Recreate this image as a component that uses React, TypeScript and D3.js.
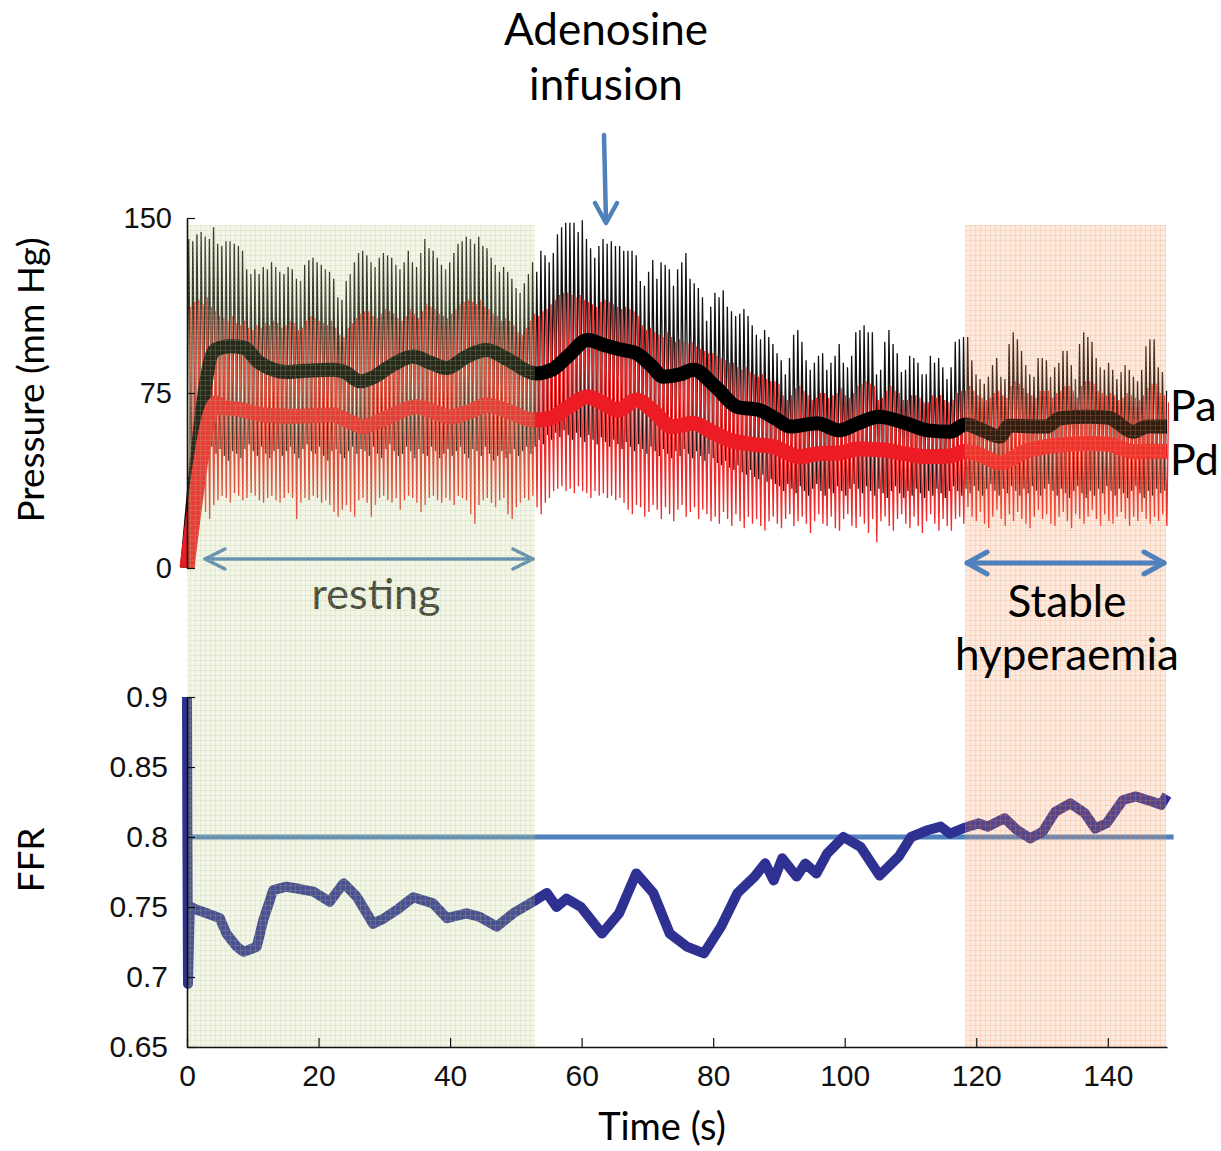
import React, { useEffect, useRef } from 'react';
import * as d3 from 'd3';

const W = 1221;
const H = 1151;

// one heartbeat every ~0.63 s (mm Hg)
const beatPeriod = 0.63;

const paSystolic = [
  141,140,143,144,142,141,146,139,138,140,140,139,138,136,128,126,128,126,129,128,131,129,127,126,129,128,124,123,130,132,133,131,130,128,127,124,116,115,123,126,131,135,136,
  134,131,129,133,135,134,133,130,128,131,136,131,129,135,141,137,136,133,130,128,131,135,139,140,142,141,139,142,138,137,133,130,127,129,127,124,120,118,122,126,131,
  127,136,134,131,135,143,146,148,148,148,144,149,141,137,133,138,141,139,140,138,138,136,136,136,134,123,121,127,132,124,131,130,128,121,128,131,135,124,122,120,116,106,112,
  118,116,119,112,110,108,109,111,108,104,100,98,102,99,96,92,
  89,83,90,100,102,97,89,85,88,91,92,85,88,91,96,88,86,91,101,102,104,101,101,83,85,97,102,96,92,84,85,91,90,88,83,83,91,88,90,86,81,86,97,98,99,
  99,89,83,81,79,82,87,90,82,81,96,101,98,93,87,83,82,90,90,89,82,86,88,93,93,87,81,96,101,99,97,90,86,85,88,85,81,84,87,85,82,80,85,95,98,98,86,84,76,
];

const paDiastolic = [
  50,48,51,49,47,50,52,49,51,48,46,50,49,47,51,53,50,48,52,49,47,50,51,48,50,52,49,47,51,53,50,49,52,48,46,50,51,49,47,50,52,49,51,
  50,48,52,49,47,51,53,50,48,49,52,50,47,51,49,48,52,50,47,49,51,48,50,52,49,47,51,50,48,52,49,46,48,50,47,49,51,48,50,52,49,
  52,55,53,57,55,58,56,59,57,55,58,56,54,57,55,53,56,54,52,55,53,51,54,52,50,53,51,49,52,50,48,51,49,47,50,48,51,49,47,50,48,46,49,
  47,45,44,46,43,42,44,41,40,42,39,38,40,37,38,36,
  35,33,36,34,32,35,33,31,34,36,33,31,34,32,35,33,31,34,36,34,32,35,33,31,34,32,30,33,35,32,30,33,31,34,32,30,33,31,34,32,30,33,35,33,31,
  34,32,35,33,31,34,36,33,31,34,32,35,33,31,34,32,35,33,31,34,36,33,31,34,32,30,33,35,32,30,33,31,34,32,35,33,31,34,32,30,33,35,32,30,33,31,34,32,33,
];

const pdSystolic = [
  112,114,115,113,116,112,110,108,107,106,108,105,104,106,103,102,104,103,105,104,106,105,103,104,106,105,102,103,106,108,107,106,105,104,106,103,100,99,103,105,107,109,110,
  110,108,107,109,111,110,109,107,106,108,111,109,107,110,113,112,111,109,108,107,109,111,113,114,115,114,113,115,112,111,109,108,106,107,106,104,101,100,103,106,109,
  108,110,111,113,115,117,118,118,117,116,117,115,114,113,112,114,115,114,113,112,111,112,111,110,108,104,102,103,101,100,99,101,99,97,98,97,96,97,95,94,93,92,92,
  91,90,89,88,88,86,85,86,84,83,82,83,81,80,80,79,
  74,72,74,77,78,76,74,72,73,75,75,73,74,75,77,74,73,75,78,79,80,79,78,72,73,76,78,76,75,72,72,74,74,73,71,71,74,73,74,72,71,72,75,76,76,
  78,76,74,73,72,73,75,76,74,73,78,80,79,77,75,74,73,76,76,76,73,75,76,78,78,76,73,78,80,80,79,76,75,74,75,74,72,73,75,74,73,72,74,77,79,79,75,74,71,
];

const pdDiastolic = [
  30,28,26,29,24,21,27,29,31,30,28,32,31,29,30,32,31,29,28,30,31,29,28,30,32,30,21,28,30,29,31,30,28,29,27,24,22,25,27,24,22,29,30,
  28,22,27,30,31,29,28,30,25,29,31,30,28,24,27,30,31,29,28,30,29,27,31,30,29,23,19,27,29,30,28,26,29,30,23,21,26,28,30,29,31,
  26,23,28,30,33,34,35,33,34,32,35,33,32,30,33,31,32,30,31,29,30,28,25,23,27,26,22,24,27,25,21,26,23,20,25,27,22,24,26,21,25,23,20,
  22,19,24,21,18,23,20,17,22,19,21,18,16,20,22,19,
  17,21,23,18,20,22,19,15,20,23,19,18,22,17,16,21,23,18,17,22,19,15,21,11,20,22,18,16,21,23,19,17,22,18,15,20,23,19,16,21,18,16,21,22,19,
  26,22,20,24,19,17,22,25,21,18,23,20,24,21,19,17,22,25,21,23,19,18,22,24,20,17,23,21,19,22,25,21,18,23,20,19,22,24,21,18,22,20,24,21,19,22,20,23,18,
];

// beat-averaged pressures
const paMeanTime = [0,4.3,6.5,8.6,11,15.2,18,22.2,24,26.3,28.5,30.8,34.4,37,39.5,42.5,45.5,49,52.1,53.1,55.5,58,60.9,63.5,66.3,68.3,70.5,72.4,75,77,80.4,83.7,87,89.5,91.8,95.8,99.2,102,105.2,109.3,112.6,116,118.4,121,123.6,125,130.7,132.7,137,140,143.9,146,149];
const paMeanValue = [0,93.5,95,94.5,88,84,84.5,85,84,80,82,86.3,90.6,88,85.7,90.6,93.4,89,84,83.4,85,91,97.7,95.5,93.4,92,87,82,83,85,77.6,69,67.7,64,60.6,62,59,62,64.8,62,59,58.4,61.5,59,56.3,61,60.6,64.2,64.8,64.5,58.4,60.6,60.6];
const pdMeanTime = [0,4.5,5.2,8,11.7,16,22.2,24.5,26.8,30,34.9,37.5,40,43,45.5,49,52.6,55,58,60.9,63,65.6,68.3,71,73.7,77,80,82.4,86,89.1,93.2,96,99.2,102,105.9,109,112.6,116,118.4,121,123.6,127.5,132.7,137,140,143.9,146,149];
const pdMeanValue = [0,70.7,69,68,65.6,65,65.6,63,60.6,64,69.1,67,64.8,67,69.9,67,63.4,64,69,73.4,71,67.7,72,67,60.6,62,58,54.9,53,52,47.7,49,49.3,51,50.6,49,47.7,48,50,48,45,50,52.7,53.4,53,49.9,50,50];

const ffrTime = [0,0.05,0.15,0.4,0.6,1.5,3,5,6,7.5,8.6,10.6,11.6,13.1,15.1,17,19.2,21.7,23.8,25.8,28.3,30,31.9,34.4,37.4,39.5,42.5,44.5,47.1,49.6,52.6,54.7,56.2,57.7,59.9,63.1,65.7,68.3,70.9,73.4,76,78.6,81.2,83.7,86.3,87.9,89.2,90.5,92.7,94,95.7,97.3,99.8,102.4,105.3,108.2,110.1,112.7,114.6,116,117.9,120.4,121.7,124.3,126.2,128.2,130.1,132,134.3,136.5,138.1,139.8,142.3,144.3,146.8,148.1,149];
const ffrValue = [0.9,0.81,0.695,0.745,0.75,0.748,0.7455,0.742,0.731,0.722,0.718,0.7216,0.7407,0.762,0.7645,0.763,0.761,0.7538,0.7669,0.7574,0.738,0.742,0.7479,0.757,0.7526,0.742,0.7455,0.743,0.736,0.7455,0.7538,0.76,0.75,0.756,0.75,0.731,0.7455,0.774,0.76,0.731,0.7217,0.7169,0.736,0.76,0.7717,0.7812,0.769,0.7848,0.7717,0.781,0.774,0.788,0.8,0.793,0.7725,0.786,0.8,0.805,0.8074,0.8024,0.806,0.8098,0.8074,0.8134,0.805,0.799,0.8038,0.818,0.824,0.817,0.806,0.8098,0.8264,0.829,0.8252,0.823,0.83];
const ffrCutoff = 0.8;

const xTicks = [0, 20, 40, 60, 80, 100, 120, 140];
const pressureTicks = [0, 75, 150];
const ffrTicks = [0.65, 0.7, 0.75, 0.8, 0.85, 0.9];
const ffrTickLabels = ['0.65', '0.7', '0.75', '0.8', '0.85', '0.9'];

const restingWindow = [0, 52.9];
const hyperaemiaWindow = [118.3, 148.85];

const labelFont = 'Lato, "Open Sans", sans-serif';
const tickFont = '"Liberation Sans", Arial, Helvetica, sans-serif';
const arrowBlue = '#4f81bd';

const x = d3.scaleLinear().domain([0, 149]).range([187, 1167]);
const yP = d3.scaleLinear().domain([0, 150]).range([568, 218]);
const yF = d3.scaleLinear().domain([0.65, 0.9]).range([1047, 697]);

const pulsePath = (sys: number[], dia: number[], phase: number) => {
  const n = Math.min(sys.length, dia.length);
  const pts: [number, number][] = [];
  for (let i = 0; i < n; i++) {
    const t0 = i * beatPeriod + phase;
    pts.push([t0, dia[i]]);
    pts.push([t0 + beatPeriod * 0.4, sys[i]]);
  }
  return d3.line<[number, number]>().x(d => x(d[0])).y(d => yP(d[1]))(pts) || '';
};

const seriesPath = (ts: number[], vs: number[], y: d3.ScaleLinear<number, number>) =>
  d3.line<number>().x((_, i) => x(ts[i])).y(v => y(v)).curve(d3.curveMonotoneX)(vs) || '';

const chevron = (tipX: number, tipY: number, dx: number, dy: number, half: number) => {
  // dx,dy: unit direction pointing at the tip
  const bx = tipX - dx * 20, by = tipY - dy * 20;
  const px = -dy * half, py = dx * half;
  return `M${bx + px},${by + py}L${tipX},${tipY}L${bx - px},${by - py}`;
};

export default function App() {
  const axisRef = useRef<SVGGElement>(null);

  useEffect(() => {
    const g = d3.select(axisRef.current);
    g.selectAll('*').remove();
    const style = (sel: d3.Selection<SVGGElement, unknown, null, undefined>, size: number) => {
      sel.attr('font-size', null).attr('font-family', null);
      sel.selectAll('path.domain').attr('stroke', '#111').attr('stroke-width', 1.6);
      sel.selectAll('.tick line').attr('stroke', '#111').attr('stroke-width', 1.2);
      sel.selectAll('text').attr('font-size', size).attr('font-family', tickFont).attr('fill', '#111');
    };
    const gp = g.append('g').attr('transform', `translate(${x(0)},0)`)
      .call(d3.axisLeft(yP).tickValues(pressureTicks).tickFormat(d3.format('d') as any)
        .tickSizeInner(-8).tickSizeOuter(0).tickPadding(15));
    style(gp, 29);
    const gf = g.append('g').attr('transform', `translate(${x(0)},0)`)
      .call(d3.axisLeft(yF).tickValues(ffrTicks).tickFormat(((_: any, i: number) => ffrTickLabels[i]) as any)
        .tickSizeInner(-8).tickSizeOuter(0).tickPadding(19));
    style(gf, 30);
    const gx = g.append('g').attr('transform', `translate(0,${yF(0.65)})`)
      .call(d3.axisBottom(x).tickValues(xTicks).tickFormat(d3.format('d') as any)
        .tickSizeInner(-9).tickSizeOuter(0).tickPadding(18));
    style(gx, 30);
  }, []);

  const top = 225;
  const bottom = yF(0.65);
  const restX0 = x(restingWindow[0]);
  const restX1 = x(restingWindow[1]);
  const hypX0 = x(hyperaemiaWindow[0]);
  const hypX1 = x(hyperaemiaWindow[1]);
  const restArrowY = 559;
  const hypArrowY = 563;

  return (
    <svg width={W} height={H} style={{ position: 'absolute', left: 0, top: 0, background: '#fff' }}>
      <defs>
        <clipPath id="plotClip">
          <rect x={x(0)} y={150} width={x(149) - x(0) + 2} height={430} />
        </clipPath>
        <pattern id="gridGreen" width={5} height={5} patternUnits="userSpaceOnUse">
          <rect width={5} height={5} fill="#bccf86" fillOpacity={0.2} />
          <path d="M0,0.5H5M0.5,0V5" stroke="#b5ca86" strokeWidth={1} strokeOpacity={0.2} />
        </pattern>
        <pattern id="gridOrange" width={5} height={5} patternUnits="userSpaceOnUse">
          <rect width={5} height={5} fill="#f6985e" fillOpacity={0.2} />
          <path d="M0,0.5H5M0.5,0V5" stroke="#f49058" strokeWidth={1} strokeOpacity={0.2} />
        </pattern>
      </defs>

      <g clipPath="url(#plotClip)">
        <path d={pulsePath(paSystolic, paDiastolic, 0)} fill="none" stroke="#111" strokeWidth={1.3} />
        <path d={pulsePath(pdSystolic, pdDiastolic, 0.3)} fill="none" stroke="#ee2a2a" strokeWidth={1.3} />
      </g>
      <path d={seriesPath(paMeanTime, paMeanValue, yP)} fill="none" stroke="#000" strokeWidth={14} strokeLinejoin="round" />
      <path d={seriesPath(pdMeanTime, pdMeanValue, yP)} fill="none" stroke="#ed1c24" strokeWidth={15} strokeLinejoin="round" />

      <line x1={x(0)} x2={x(150)} y1={yF(ffrCutoff)} y2={yF(ffrCutoff)} stroke={arrowBlue} strokeWidth={5} />
      <path d={d3.line<number>().x((_, i) => x(ffrTime[i])).y(v => yF(v))(ffrValue) || ''}
        fill="none" stroke="#2e3192" strokeWidth={10} strokeLinejoin="round" />

      {/* resting annotation sits under the tint */}
      <g stroke={arrowBlue} strokeWidth={3.5} fill="none" strokeLinecap="round" strokeLinejoin="round">
        <line x1={restX0 + 18} x2={restX1 - 2} y1={restArrowY} y2={restArrowY} />
        <path d={chevron(restX0 + 18, restArrowY, -1, 0, 10)} />
        <path d={chevron(restX1 - 2, restArrowY, 1, 0, 10)} />
      </g>
      <text x={376} y={609} textAnchor="middle" fontSize={43} fontFamily={labelFont} fill="#2a2a2a">resting</text>

      <rect x={restX0} y={top} width={restX1 - restX0} height={bottom - top} fill="url(#gridGreen)" />
      <rect x={hypX0} y={top} width={hypX1 - hypX0} height={bottom - top} fill="url(#gridOrange)" />

      <g ref={axisRef} />

      <g stroke={arrowBlue} strokeWidth={5} fill="none" strokeLinecap="round" strokeLinejoin="round">
        <line x1={hypX0 + 2} x2={hypX1 - 2} y1={hypArrowY} y2={hypArrowY} />
        <path d={chevron(hypX0 + 2, hypArrowY, -1, 0, 11)} />
        <path d={chevron(hypX1 - 2, hypArrowY, 1, 0, 11)} />
        <line x1={604} x2={606} y1={135} y2={222} strokeWidth={4.5} />
        <path d={chevron(606, 223, 0, 1, 11)} strokeWidth={4.5} />
      </g>

      <g fontFamily={labelFont} fill="#000">
        <text x={606} y={45} textAnchor="middle" fontSize={44}>Adenosine</text>
        <text x={606} y={100} textAnchor="middle" fontSize={44}>infusion</text>
        <text x={1067} y={617} textAnchor="middle" fontSize={44}>Stable</text>
        <text x={1067} y={670} textAnchor="middle" fontSize={44}>hyperaemia</text>
        <text x={1170} y={421} fontSize={43}>Pa</text>
        <text x={1170} y={475} fontSize={43}>Pd</text>
        <text transform="translate(44,380) rotate(-90)" textAnchor="middle" fontSize={37}>Pressure (mm Hg)</text>
        <text transform="translate(44,860) rotate(-90)" textAnchor="middle" fontSize={37}>FFR</text>
        <text x={662} y={1140} textAnchor="middle" fontSize={38}>Time (s)</text>
      </g>
    </svg>
  );
}
